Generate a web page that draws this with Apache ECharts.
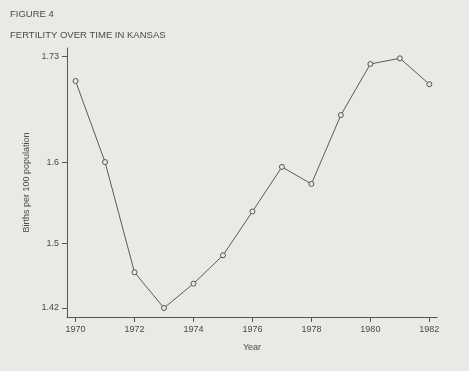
<!DOCTYPE html>
<html>
<head>
<meta charset="utf-8">
<script src="https://cdn.jsdelivr.net/npm/echarts@6/dist/echarts.min.js"></script>
<style>
  html, body { margin: 0; padding: 0; background: #e9e9e6; }
  #chart { width: 469px; height: 371px; }
</style>
</head>
<body>
<div id="chart"></div>
<script>
// Fertility rate in Kansas, births per 100 population, 1970-1982
var years = [1970, 1971, 1972, 1973, 1974, 1975, 1976, 1977, 1978, 1979, 1980, 1981, 1982];
var births = [1.700, 1.600, 1.464, 1.420, 1.450, 1.485, 1.539, 1.594, 1.573, 1.658, 1.721, 1.728, 1.696];
var xTicks = [1970, 1972, 1974, 1976, 1978, 1980, 1982];
var yTicks = [1.42, 1.5, 1.6, 1.73];

var textColor = '#4a4a4a';
var font = '"Liberation Sans", Arial, sans-serif';

var chart = echarts.init(document.getElementById('chart'), null, { renderer: 'canvas' });
chart.setOption({
  backgroundColor: '#e9e9e6',
  animation: false,
  title: [
    { text: 'FIGURE 4', left: 5, top: 4,
      textStyle: { fontFamily: font, fontSize: 9.5, fontWeight: 'normal', color: textColor } },
    { text: 'FERTILITY OVER TIME IN KANSAS', left: 5, top: 25,
      textStyle: { fontFamily: font, fontSize: 9.5, fontWeight: 'normal', color: textColor } }
  ],
  grid: { left: 67, right: 32, top: 48, bottom: 54 },
  xAxis: {
    type: 'value',
    min: 1969.71,
    max: 1982.26,
    name: 'Year',
    nameLocation: 'middle',
    nameGap: 26,
    nameTextStyle: { fontFamily: font, fontSize: 9, color: textColor },
    axisLine: { lineStyle: { color: '#555', width: 1 } },
    axisTick: { show: true, length: 5, customValues: xTicks, lineStyle: { color: '#555' } },
    axisLabel: { customValues: xTicks, fontFamily: font, fontSize: 9, color: textColor, margin: 8,
      formatter: function (v) { return String(v); } },
    splitLine: { show: false }
  },
  yAxis: {
    type: 'value',
    min: 1.4089,
    max: 1.7407,
    name: 'Births per 100 population',
    nameLocation: 'middle',
    nameRotate: 90,
    nameGap: 35,
    nameTextStyle: { fontFamily: font, fontSize: 9, color: textColor },
    axisLine: { show: true, lineStyle: { color: '#555', width: 1 } },
    axisTick: { show: true, length: 5, customValues: yTicks, lineStyle: { color: '#555' } },
    axisLabel: { customValues: yTicks, fontFamily: font, fontSize: 9, color: textColor, margin: 8,
      formatter: function (v) { return String(v); } },
    splitLine: { show: false }
  },
  series: [{
    type: 'line',
    data: years.map(function (y, i) { return [y, births[i]]; }),
    symbol: 'circle',
    symbolSize: 5,
    showAllSymbol: true,
    lineStyle: { color: '#5a5a5a', width: 1 },
    itemStyle: { color: '#e9e9e6', borderColor: '#555', borderWidth: 1 }
  }]
});
</script>
</body>
</html>
